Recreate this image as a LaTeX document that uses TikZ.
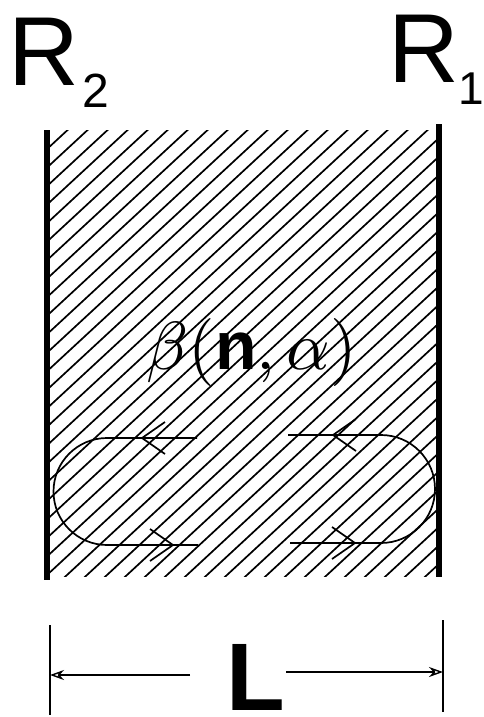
\documentclass[tikz,border=0pt]{standalone}
\usepackage{fontspec}
\setmainfont{Liberation Sans}
\usetikzlibrary{arrows.meta}
\begin{document}
\begin{tikzpicture}[x=1pt,y=-1pt,
  wall/.style={line width=5.5pt},
  hatch/.style={line width=1.7pt},
  loop/.style={line width=1.7pt},
  barb/.style={line width=1.7pt},
  tick/.style={line width=2.5pt},
  dim/.style={line width=1.6pt,-{Stealth[length=14pt,width=10pt,open,line width=1.4pt]}},
  big/.style={font=\fontsize{98}{100}\selectfont,inner sep=0pt}]
\useasboundingbox (0,0) rectangle (483,717);
% hatched region
\begin{scope}
  \clip (47,130) rectangle (438,576);
  \foreach \k in {-15,...,20} {
    \draw[hatch] ({\k*40},600) -- ++(540,-500);
    \draw[hatch] ({\k*40+20},600) -- ++(540,-500);
  }
\end{scope}
% walls
\coordinate (Lt) at (47,130); \coordinate (Lb) at (47,580);
\coordinate (Rt) at (439,124); \coordinate (Rb) at (439,577);
\draw[wall] (Lt) -- (Lb);
\draw[wall] (Rt) -- (Rb);
% labels
\node[big,anchor=base west] (R2) at (8,85) {R\hspace{4pt}\raisebox{-22pt}{\fontsize{48}{50}\selectfont 2}};
\node[big,anchor=base west] (R1) at (388,82) {R\raisebox{-22pt}{\makebox[17pt][l]{\fontsize{46}{48}\selectfont 1}}};
\node[inner sep=0pt] (beta) at (252,352) {\scalebox{6.8}{$\beta(\mathbf{n},\alpha)$}};
% left loop
\coordinate (a1) at (197,438); \coordinate (a2) at (198,545);
\draw[loop] (a1) -- (107,438) arc[start angle=-90,end angle=-270,radius=53.5] -- (a2);
\coordinate (t1) at (142,438); \coordinate (t2) at (173,545);
\draw[barb] ([shift={(23,-16)}]t1) -- (t1) -- ([shift={(23,16)}]t1);
\draw[barb] ([shift={(-23,-16)}]t2) -- (t2) -- ([shift={(-23,16)}]t2);
% right loop
\coordinate (b1) at (288,435); \coordinate (b2) at (290,543);
\draw[loop] (b1) -- (381,435) arc[start angle=-90,end angle=90,radius=54] -- (b2);
\coordinate (t3) at (333,435); \coordinate (t4) at (355,543);
\draw[barb] ([shift={(23,-16)}]t3) -- (t3) -- ([shift={(23,16)}]t3);
\draw[barb] ([shift={(-23,-16)}]t4) -- (t4) -- ([shift={(-23,16)}]t4);
% dimension
\coordinate (d1t) at (50,625); \coordinate (d1b) at (50,715);
\coordinate (d2t) at (443,620); \coordinate (d2b) at (443,712);
\draw[tick] (d1t) -- (d1b);
\draw[tick] (d2t) -- (d2b);
\node[inner sep=0pt,font=\fontsize{96}{98}\selectfont\bfseries,anchor=base] (L) at (256,710) {L};
\coordinate (e1) at (190,675); \coordinate (e2) at (286,672);
\draw[dim] (e1) -- (d1t |- e1);
\draw[dim] (e2) -- (d2t |- e2);
\end{tikzpicture}
\end{document}
